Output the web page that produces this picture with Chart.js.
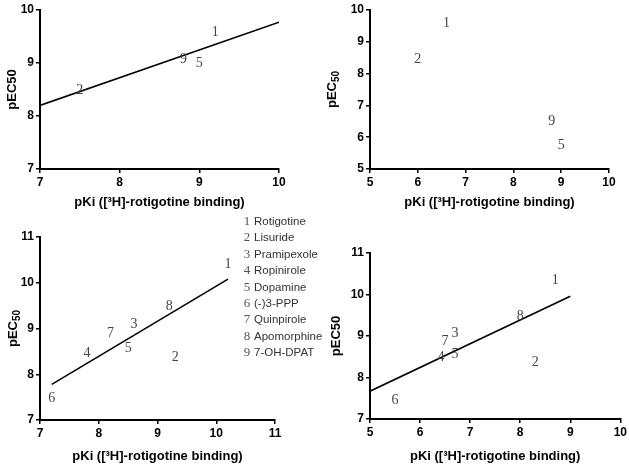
<!DOCTYPE html>
<html>
<head>
<meta charset="utf-8">
<script src="https://cdn.jsdelivr.net/npm/chart.js@4.4.0/dist/chart.umd.min.js"></script>
<style>
  body { margin: 0; background: #fff; }
  #wrap { position: relative; width: 629px; height: 465px; overflow: hidden; }
  canvas { position: absolute; }
  .row { position: absolute; white-space: nowrap; font: 11.5px "Liberation Sans", Arial, sans-serif; color: #333; line-height: 14px; }
  .row span { display: inline-block; width: 10px; margin-right: 2px; text-align: center; font: 13px "Liberation Serif", "Times New Roman", serif; color: #555; }
</style>
</head>
<body>
<div id="wrap">
  <canvas id="chartA" width="300" height="215" style="left:0;top:0"></canvas>
  <canvas id="chartB" width="309" height="215" style="left:320px;top:0"></canvas>
  <canvas id="chartC" width="300" height="240" style="left:0;top:225px"></canvas>
  <canvas id="chartD" width="309" height="240" style="left:320px;top:225px"></canvas>
  <div id="legend"></div>
</div>
<script>
const compoundIds = ["1", "2", "3", "4", "5", "6", "7", "8", "9"];
const compoundNames = ["Rotigotine", "Lisuride", "Pramipexole", "Ropinirole", "Dopamine",
    "(-)3-PPP", "Quinpirole", "Apomorphine", "7-OH-DPAT"];

const xTitle = "pKi ([³H]-rotigotine binding)";

// top left
const aIds = ["1", "2", "5", "9"];
const aX = [9.2, 7.5, 9.0, 8.8];
const aY = [9.58, 8.48, 8.99, 9.07];
const aFitX = [7, 10];
const aFitY = [8.2, 9.77];

// top right
const bIds = ["1", "2", "9", "5"];
const bX = [6.6, 6.0, 8.8, 9.0];
const bY = [9.58, 8.45, 6.5, 5.75];

// bottom left
const cIds = ["1", "2", "3", "4", "5", "6", "7", "8"];
const cX = [10.2, 9.3, 8.6, 7.8, 8.5, 7.2, 8.2, 9.2];
const cY = [10.4, 8.37, 9.09, 8.46, 8.57, 7.48, 8.9, 9.48];
const cFitX = [7.2, 10.2];
const cFitY = [7.78, 10.08];

// bottom right
const dIds = ["1", "2", "3", "4", "5", "6", "7", "8"];
const dX = [8.7, 8.3, 6.7, 6.42, 6.7, 5.5, 6.5, 8.0];
const dY = [10.35, 8.36, 9.07, 8.48, 8.55, 7.45, 8.87, 9.47];
const dFitX = [5, 9];
const dFitY = [7.67, 9.96];

Chart.defaults.font.family = "'Liberation Sans', Arial, sans-serif";
Chart.defaults.color = "#000";

const numberLabels = {
    id: "numberLabels",
    afterDatasetsDraw(chart) {
        const ds = chart.data.datasets[0];
        const meta = chart.getDatasetMeta(0);
        const ctx = chart.ctx;
        ctx.save();
        ctx.font = "14px 'Liberation Serif', 'Times New Roman', serif";
        ctx.fillStyle = "#444";
        ctx.textAlign = "center";
        ctx.textBaseline = "middle";
        meta.data.forEach((pt, i) => ctx.fillText(ds.ids[i], pt.x, pt.y));
        ctx.restore();
    }
};

// y title with a real subscript ("pEC" + small "50")
const subTitle = {
    id: "subTitle",
    afterDraw(chart, args, opts) {
        if (!opts || !opts.main) return;
        const ctx = chart.ctx;
        const area = chart.chartArea;
        const cy = (area.top + area.bottom) / 2;
        ctx.save();
        ctx.translate(opts.x, cy);
        ctx.rotate(-Math.PI / 2);
        ctx.fillStyle = "#000";
        ctx.textBaseline = "middle";
        ctx.textAlign = "left";
        ctx.font = "bold 13px 'Liberation Sans', Arial, sans-serif";
        const w1 = ctx.measureText(opts.main).width;
        ctx.font = "bold 10px 'Liberation Sans', Arial, sans-serif";
        const w2 = ctx.measureText(opts.sub).width;
        const start = -(w1 + w2) / 2;
        ctx.font = "bold 13px 'Liberation Sans', Arial, sans-serif";
        ctx.fillText(opts.main, start, 0);
        ctx.font = "bold 10px 'Liberation Sans', Arial, sans-serif";
        ctx.fillText(opts.sub, start + w1, 4);
        ctx.restore();
    }
};

function toPoints(xs, ys) {
    return xs.map((x, i) => ({ x: x, y: ys[i] }));
}

function makeChart(id, ids, xs, ys, fitX, fitY, o) {
    const datasets = [{
        type: "scatter",
        ids: ids,
        data: toPoints(xs, ys),
        pointRadius: 0,
        pointHoverRadius: 0,
        clip: false
    }];
    if (fitX) {
        datasets.push({
            type: "line",
            data: toPoints(fitX, fitY),
            borderColor: "#000",
            borderWidth: 1.6,
            pointRadius: 0,
            fill: false,
            tension: 0
        });
    }

    return new Chart(document.getElementById(id), {
        type: "scatter",
        data: { datasets },
        options: {
            responsive: false,
            animation: false,
            layout: { padding: { top: o.padTop, right: o.padRight, left: 0, bottom: 0 } },
            plugins: {
                legend: { display: false },
                tooltip: { enabled: false },
                subTitle: o.ySub ? { main: o.yTitle, sub: o.ySub, x: o.yTitlePad + 7.5 } : {}
            },
            scales: {
                x: {
                    type: "linear",
                    min: o.xMin,
                    max: o.xMax,
                    ticks: { stepSize: 1, color: "#000", padding: 2, font: { size: 12, weight: "bold" } },
                    grid: { drawOnChartArea: false, color: "#000", lineWidth: 1.5, tickLength: 4 },
                    border: { color: "#000", width: 2 },
                    title: {
                        display: true, text: xTitle, color: "#000",
                        font: { size: 13, weight: "bold" },
                        padding: { top: 0, bottom: o.xTitlePad }
                    },
                    afterFit: s => { s.height = o.xHeight; }
                },
                y: {
                    type: "linear",
                    min: o.yMin,
                    max: o.yMax,
                    ticks: { stepSize: 1, color: "#000", padding: 2, font: { size: 12, weight: "bold" } },
                    grid: { drawOnChartArea: false, color: "#000", lineWidth: 1.5, tickLength: 4 },
                    border: { color: "#000", width: 2 },
                    title: {
                        display: !o.ySub, text: o.yTitle, color: "#000",
                        font: { size: 13, weight: "bold" },
                        padding: { top: o.yTitlePad, bottom: 0 }
                    },
                    afterFit: s => { s.width = o.yWidth; }
                }
            }
        },
        plugins: [numberLabels, subTitle]
    });
}

function buildLegend() {
    const box = document.getElementById("legend");
    compoundNames.forEach((name, i) => {
        const row = document.createElement("div");
        row.className = "row";
        row.style.left = "242px";
        row.style.top = (213 + i * 16.4) + "px";
        row.innerHTML = `<span>${compoundIds[i]}</span>${name}`;
        box.appendChild(row);
    });
}

makeChart("chartA", aIds, aX, aY, aFitX, aFitY, {
    xMin: 7, xMax: 10, yMin: 7, yMax: 10, yTitle: "pEC50",
    padTop: 10, padRight: 21, xHeight: 46, yWidth: 40, xTitlePad: 5, yTitlePad: 5
});
makeChart("chartB", bIds, bX, bY, null, null, {
    xMin: 5, xMax: 10, yMin: 5, yMax: 10, yTitle: "pEC", ySub: "50",
    padTop: 10, padRight: 20, xHeight: 46, yWidth: 50, xTitlePad: 5, yTitlePad: 5
});
makeChart("chartC", cIds, cX, cY, cFitX, cFitY, {
    xMin: 7, xMax: 11, yMin: 7, yMax: 11, yTitle: "pEC", ySub: "50",
    padTop: 12, padRight: 25, xHeight: 45, yWidth: 40, xTitlePad: 1, yTitlePad: 6
});
makeChart("chartD", dIds, dX, dY, dFitX, dFitY, {
    xMin: 5, xMax: 10, yMin: 7, yMax: 11, yTitle: "pEC50",
    padTop: 28, padRight: 7, xHeight: 46, yWidth: 50, xTitlePad: 1, yTitlePad: 9
});
buildLegend();
</script>
</body>
</html>
